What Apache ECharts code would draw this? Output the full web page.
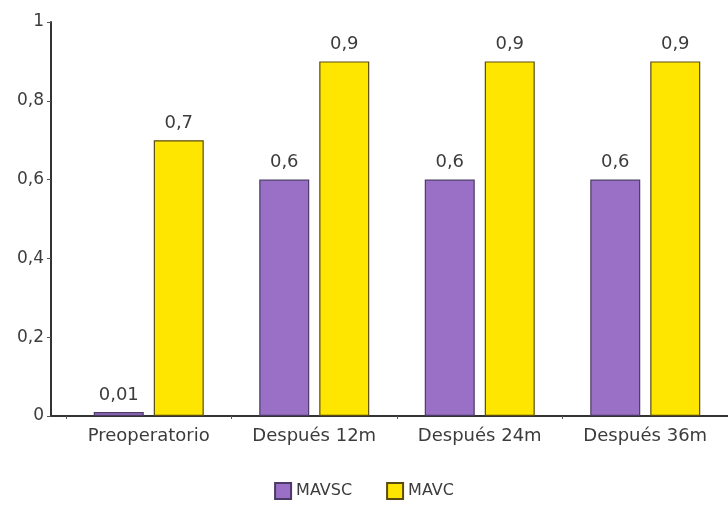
<!DOCTYPE html>
<html>
<head>
<meta charset="utf-8">
<script src="https://cdn.jsdelivr.net/npm/echarts@6/dist/echarts.min.js"></script>
<style>
  html, body { margin: 0; padding: 0; background: #fff; }
  #chart { width: 728px; height: 507px; }
</style>
</head>
<body>
<div id="chart"></div>
<script>
// Periods of follow-up
const categories = ['Preoperatorio', 'Después 12m', 'Después 24m', 'Después 36m'];
// Visual acuity without correction / with correction
const mavsc = [0.01, 0.6, 0.6, 0.6];
const mavc = [0.7, 0.9, 0.9, 0.9];
const yTicks = [0, 0.2, 0.4, 0.6, 0.8, 1];

const fmt = v => String(v).replace('.', ',');
const font = 'DejaVu Sans, Verdana, sans-serif';
const textColor = '#3c3c3c';

const chart = echarts.init(document.getElementById('chart'), null, { renderer: 'canvas' });

const labelStyle = {
  show: true,
  position: 'top',
  distance: 8,
  color: textColor,
  fontFamily: font,
  fontSize: 18,
  formatter: p => fmt(p.value)
};

chart.setOption({
  animation: false,
  backgroundColor: '#fff',
  grid: [
    // plotting area for the bars
    { left: 66, right: -12, top: 22, bottom: 91, containLabel: false },
    // same area starting at the value axis, used for the full-length baseline
    { left: 51, right: -12, top: 22, bottom: 91, containLabel: false }
  ],
  legend: {
    bottom: 2,
    left: 'center',
    itemWidth: 16,
    itemHeight: 16,
    itemGap: 34,
    icon: 'rect',
    itemStyle: { borderWidth: 2 },
    textStyle: { fontFamily: font, fontSize: 16, color: textColor },
    data: ['MAVSC', 'MAVC']
  },
  xAxis: [
    {
      type: 'category',
      gridIndex: 0,
      data: categories,
      axisLine: { show: false },
      axisTick: { show: true, length: 3, lineStyle: { color: '#555' } },
      axisLabel: { fontFamily: font, fontSize: 18, color: textColor, margin: 11 }
    },
    {
      type: 'value',
      gridIndex: 1,
      min: 0,
      max: 1,
      axisLine: { show: true, onZero: false, lineStyle: { color: '#333', width: 2 } },
      axisTick: { show: false },
      axisLabel: { show: false },
      splitLine: { show: false }
    }
  ],
  yAxis: [
    {
      type: 'value',
      gridIndex: 0,
      min: yTicks[0],
      max: yTicks[yTicks.length - 1],
      interval: 0.2,
      offset: 15,
      splitLine: { show: false },
      axisLine: { show: true, lineStyle: { color: '#333', width: 2 } },
      axisTick: { show: true, length: 4, lineStyle: { color: '#555' } },
      axisLabel: {
        fontFamily: font, fontSize: 17, color: textColor, margin: 7,
        formatter: v => fmt(+v.toFixed(1))
      }
    },
    {
      type: 'value',
      gridIndex: 1,
      min: 0,
      max: 1,
      show: false
    }
  ],
  series: [
    {
      name: 'MAVSC',
      type: 'bar',
      xAxisIndex: 0,
      yAxisIndex: 0,
      data: mavsc,
      barWidth: 50,
      barGap: '20%',
      itemStyle: { color: '#9a70c6', borderColor: '#4b3a66', borderWidth: 1.2 },
      label: labelStyle
    },
    {
      name: 'MAVC',
      type: 'bar',
      xAxisIndex: 0,
      yAxisIndex: 0,
      data: mavc,
      barWidth: 50,
      itemStyle: { color: '#ffe600', borderColor: '#5a4c10', borderWidth: 1.2 },
      label: labelStyle
    }
  ]
});
</script>
</body>
</html>
